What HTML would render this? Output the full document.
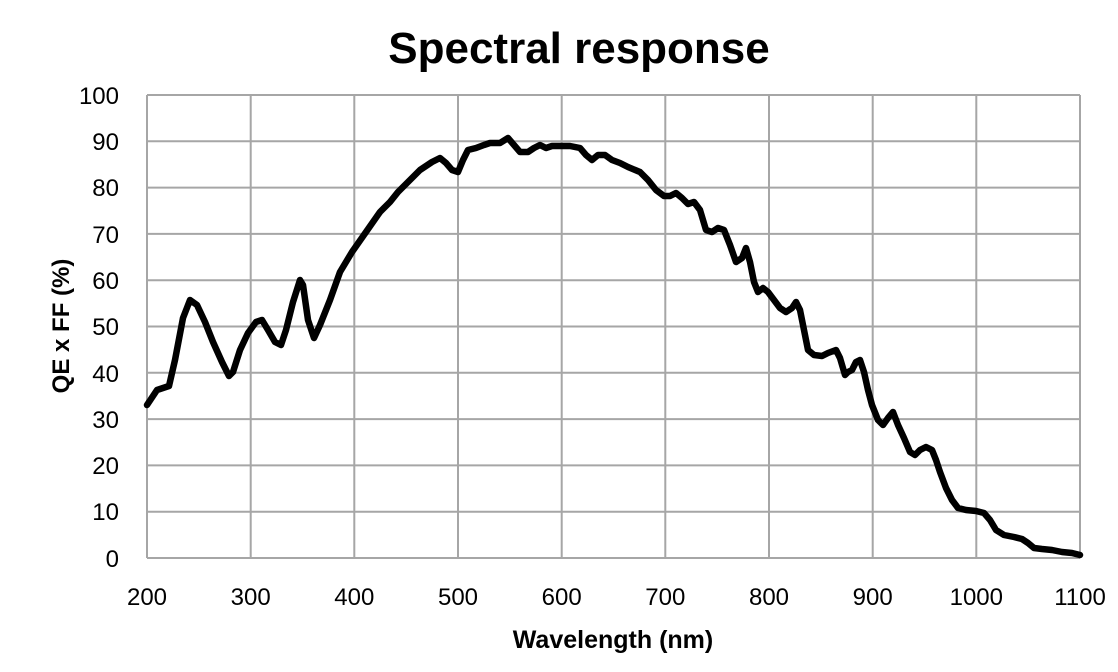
<!DOCTYPE html>
<html><head><meta charset="utf-8"><style>
body{margin:0;background:#fff;}
svg text{font-family:"Liberation Sans",sans-serif;}
</style></head><body>
<svg width="1118" height="667" viewBox="0 0 1118 667">
<rect width="1118" height="667" fill="#fff"/>
<text x="579" y="63" font-size="44" font-weight="bold" text-anchor="middle" fill="#000">Spectral response</text>
<g stroke="#a6a6a6" stroke-width="2">
<line x1="147" y1="95" x2="1080" y2="95"/><line x1="147" y1="141.3" x2="1080" y2="141.3"/><line x1="147" y1="187.6" x2="1080" y2="187.6"/><line x1="147" y1="233.9" x2="1080" y2="233.9"/><line x1="147" y1="280.2" x2="1080" y2="280.2"/><line x1="147" y1="326.5" x2="1080" y2="326.5"/><line x1="147" y1="372.8" x2="1080" y2="372.8"/><line x1="147" y1="419.1" x2="1080" y2="419.1"/><line x1="147" y1="465.4" x2="1080" y2="465.4"/><line x1="147" y1="511.7" x2="1080" y2="511.7"/><line x1="147" y1="558" x2="1080" y2="558"/>
<line x1="147" y1="95" x2="147" y2="558"/><line x1="250.7" y1="95" x2="250.7" y2="558"/><line x1="354.3" y1="95" x2="354.3" y2="558"/><line x1="458" y1="95" x2="458" y2="558"/><line x1="561.7" y1="95" x2="561.7" y2="558"/><line x1="665.3" y1="95" x2="665.3" y2="558"/><line x1="769" y1="95" x2="769" y2="558"/><line x1="872.7" y1="95" x2="872.7" y2="558"/><line x1="976.3" y1="95" x2="976.3" y2="558"/><line x1="1080" y1="95" x2="1080" y2="558"/>
</g>
<g font-size="24" fill="#000" text-anchor="end">
<text x="119" y="104">100</text><text x="119" y="150">90</text><text x="119" y="196">80</text><text x="119" y="243">70</text><text x="119" y="289">60</text><text x="119" y="335">50</text><text x="119" y="382">40</text><text x="119" y="428">30</text><text x="119" y="474">20</text><text x="119" y="520">10</text><text x="119" y="567">0</text>
</g>
<g font-size="24" fill="#000" text-anchor="middle">
<text x="147" y="605">200</text><text x="250.7" y="605">300</text><text x="354.3" y="605">400</text><text x="458" y="605">500</text><text x="561.7" y="605">600</text><text x="665.3" y="605">700</text><text x="769" y="605">800</text><text x="872.7" y="605">900</text><text x="976.3" y="605">1000</text><text x="1080" y="605">1100</text>
</g>
<text x="613" y="648" font-size="25" font-weight="bold" text-anchor="middle">Wavelength (nm)</text>
<text transform="translate(69,326) rotate(-90)" font-size="24" font-weight="bold" text-anchor="middle">QE x FF (%)</text>
<polyline fill="none" stroke="#000" stroke-width="6.5" stroke-linejoin="round" stroke-linecap="round" points="147,405 157,390 163,388 169,386 175,360 183,318 190,300 197,305 205,322 213,342 222,362 229,376 233,372 240,350 248,333 256,322 262,320 268,330 275,342 281,345 286,330 293,302 300,280 303,285 308,320 314,338 320,325 330,300 340,272 352,252 366,232 380,212 390,202 398,192 410,180 420,170 432,162 440,158 446,163 452,170 458,172 463,160 468,150 476,148 484,145 490,143 500,143 508,138 514,145 520,152 528,152 534,148 540,145 546,148 552,146 560,146 570,146 580,148 586,155 592,160 598,155 605,155 612,160 620,163 628,167 640,172 648,180 656,190 664,196 670,196 676,193 682,198 688,204 694,202 700,210 706,230 712,232 718,228 724,230 730,245 736,262 742,258 746,248 750,262 754,282 758,292 763,288 768,292 774,300 780,308 786,312 792,308 796,302 800,310 804,330 808,350 814,355 822,356 828,353 836,350 840,358 845,375 848,372 852,370 856,362 860,360 864,372 868,390 872,405 878,420 883,425 888,418 893,412 898,425 904,438 910,452 915,455 920,450 926,447 932,450 936,460 940,472 946,488 952,500 958,508 966,510 976,511 984,513 990,520 996,530 1004,535 1014,537 1022,539 1028,543 1034,548 1042,549 1052,550 1062,552 1072,553 1080,555"/>
</svg>
</body></html>
